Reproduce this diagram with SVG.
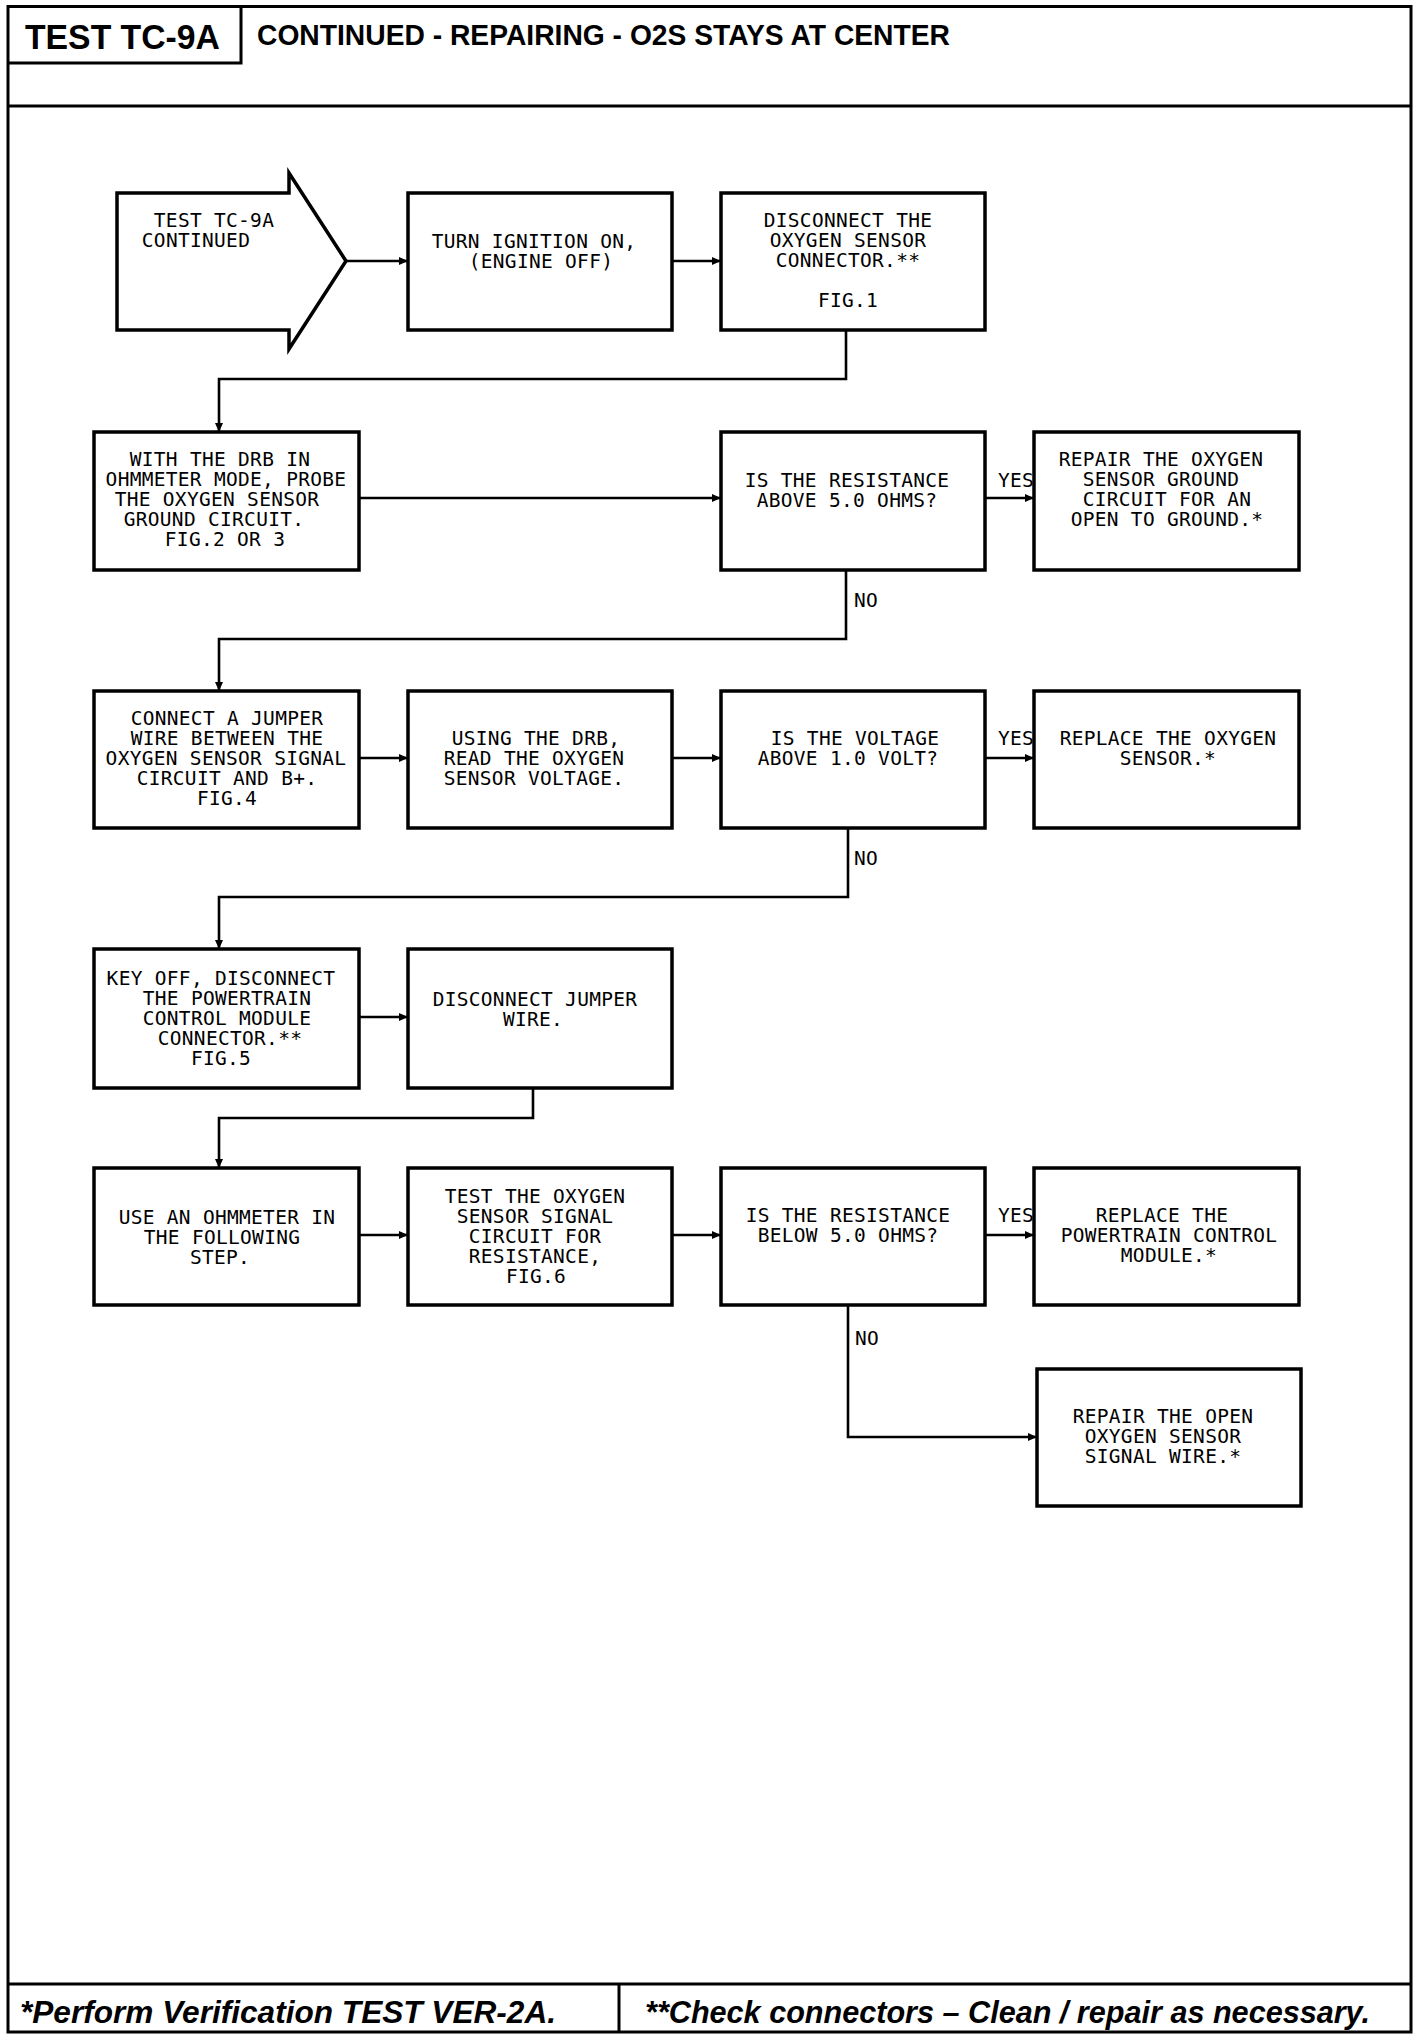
<svg xmlns="http://www.w3.org/2000/svg" width="1424" height="2044" viewBox="0 0 1424 2044">
<style>
.frame{fill:none;stroke:#000;stroke-width:3}
.box{fill:#fff;stroke:#000;stroke-width:3.5}
.con{fill:none;stroke:#000;stroke-width:2.6}
.t{font-family:"DejaVu Sans Mono","Liberation Mono",monospace;font-size:19.5px;letter-spacing:0.3px;fill:#000;text-anchor:middle}
.lbl{font-family:"DejaVu Sans Mono","Liberation Mono",monospace;font-size:19.5px;letter-spacing:0.3px;fill:#000}
.hd{font-family:"Liberation Sans",Arial,sans-serif;font-weight:bold;fill:#000}
.ft{font-family:"Liberation Sans",Arial,sans-serif;font-weight:bold;font-style:italic;fill:#000;font-size:31px}
</style>
<defs>
<marker id="ah" markerUnits="userSpaceOnUse" markerWidth="9" markerHeight="8" refX="9" refY="4" orient="auto">
<path d="M0,0 L9,4 L0,8 z" fill="#000"/>
</marker>
</defs>
<rect width="1424" height="2044" fill="#fff"/>
<g id="frame">
<rect class="frame" x="8" y="6.5" width="1403" height="2025.5"/>
<line class="frame" x1="8" y1="106" x2="1411" y2="106"/>
<polyline class="frame" points="8,63 241,63 241,6.5"/>
<line class="frame" x1="8" y1="1984" x2="1411" y2="1984"/>
<line class="frame" x1="619" y1="1984" x2="619" y2="2032"/>
<text class="hd" x="25" y="49" font-size="35" textLength="195" lengthAdjust="spacingAndGlyphs">TEST TC-9A</text>
<text class="hd" x="257" y="45" font-size="29" textLength="693" lengthAdjust="spacingAndGlyphs">CONTINUED - REPAIRING - O2S STAYS AT CENTER</text>
<text class="ft" x="20" y="2023" textLength="536" lengthAdjust="spacingAndGlyphs">*Perform Verification TEST VER-2A.</text>
<text class="ft" x="645" y="2023" textLength="725" lengthAdjust="spacingAndGlyphs">**Check connectors – Clean / repair as necessary.</text>
</g>
<g id="connectors">
<line class="con" x1="346" y1="261" x2="408" y2="261" marker-end="url(#ah)"/>
<line class="con" x1="672" y1="261" x2="721" y2="261" marker-end="url(#ah)"/>
<polyline class="con" points="846,330 846,379 219,379 219,432" marker-end="url(#ah)"/>
<line class="con" x1="359" y1="498" x2="721" y2="498" marker-end="url(#ah)"/>
<line class="con" x1="985" y1="498" x2="1034" y2="498" marker-end="url(#ah)"/>
<polyline class="con" points="846,570 846,639 219,639 219,691" marker-end="url(#ah)"/>
<line class="con" x1="359" y1="758" x2="408" y2="758" marker-end="url(#ah)"/>
<line class="con" x1="672" y1="758" x2="721" y2="758" marker-end="url(#ah)"/>
<line class="con" x1="985" y1="758" x2="1034" y2="758" marker-end="url(#ah)"/>
<polyline class="con" points="848,828 848,897 219,897 219,949" marker-end="url(#ah)"/>
<line class="con" x1="359" y1="1017" x2="408" y2="1017" marker-end="url(#ah)"/>
<polyline class="con" points="533,1088 533,1118 219,1118 219,1168" marker-end="url(#ah)"/>
<line class="con" x1="359" y1="1235" x2="408" y2="1235" marker-end="url(#ah)"/>
<line class="con" x1="672" y1="1235" x2="721" y2="1235" marker-end="url(#ah)"/>
<line class="con" x1="985" y1="1235" x2="1034" y2="1235" marker-end="url(#ah)"/>
<polyline class="con" points="848,1305 848,1437 1037,1437" marker-end="url(#ah)"/>
<text class="lbl" x="998" y="487">YES</text>
<text class="lbl" x="854" y="607">NO</text>
<text class="lbl" x="998" y="745">YES</text>
<text class="lbl" x="854" y="865">NO</text>
<text class="lbl" x="998" y="1222">YES</text>
<text class="lbl" x="855" y="1345">NO</text>
</g>
<g id="start">
<polygon class="box" points="117,193 289,193 289,173 346,261 289,349 289,330 117,330"/>
<text class="t" x="214" y="227">TEST TC-9A</text>
<text class="t" x="196" y="247">CONTINUED</text>
</g>
<g id="n1">
<rect class="box" x="408" y="193" width="264" height="137"/>
<text class="t" x="534" y="248">TURN IGNITION ON,</text>
<text class="t" x="541" y="268">(ENGINE OFF)</text>
</g>
<g id="n2">
<rect class="box" x="721" y="193" width="264" height="137"/>
<text class="t" x="848" y="227">DISCONNECT THE</text>
<text class="t" x="848" y="247">OXYGEN SENSOR</text>
<text class="t" x="848" y="267">CONNECTOR.**</text>
<text class="t" x="848" y="307">FIG.1</text>
</g>
<g id="n3">
<rect class="box" x="94" y="432" width="265" height="138"/>
<text class="t" x="220" y="466">WITH THE DRB IN</text>
<text class="t" x="226" y="486">OHMMETER MODE, PROBE</text>
<text class="t" x="217" y="506">THE OXYGEN SENSOR</text>
<text class="t" x="214" y="526">GROUND CIRCUIT.</text>
<text class="t" x="225" y="546">FIG.2 OR 3</text>
</g>
<g id="n4">
<rect class="box" x="721" y="432" width="264" height="138"/>
<text class="t" x="847" y="487">IS THE RESISTANCE</text>
<text class="t" x="847" y="507">ABOVE 5.0 OHMS?</text>
</g>
<g id="n5">
<rect class="box" x="1034" y="432" width="265" height="138"/>
<text class="t" x="1161" y="466">REPAIR THE OXYGEN</text>
<text class="t" x="1161" y="486">SENSOR GROUND</text>
<text class="t" x="1167" y="506">CIRCUIT FOR AN</text>
<text class="t" x="1167" y="526">OPEN TO GROUND.*</text>
</g>
<g id="n6">
<rect class="box" x="94" y="691" width="265" height="137"/>
<text class="t" x="227" y="725">CONNECT A JUMPER</text>
<text class="t" x="227" y="745">WIRE BETWEEN THE</text>
<text class="t" x="226" y="765">OXYGEN SENSOR SIGNAL</text>
<text class="t" x="227" y="785">CIRCUIT AND B+.</text>
<text class="t" x="227" y="805">FIG.4</text>
</g>
<g id="n7">
<rect class="box" x="408" y="691" width="264" height="137"/>
<text class="t" x="536" y="745">USING THE DRB,</text>
<text class="t" x="534" y="765">READ THE OXYGEN</text>
<text class="t" x="534" y="785">SENSOR VOLTAGE.</text>
</g>
<g id="n8">
<rect class="box" x="721" y="691" width="264" height="137"/>
<text class="t" x="855" y="745">IS THE VOLTAGE</text>
<text class="t" x="848" y="765">ABOVE 1.0 VOLT?</text>
</g>
<g id="n9">
<rect class="box" x="1034" y="691" width="265" height="137"/>
<text class="t" x="1168" y="745">REPLACE THE OXYGEN</text>
<text class="t" x="1168" y="765">SENSOR.*</text>
</g>
<g id="n10">
<rect class="box" x="94" y="949" width="265" height="139"/>
<text class="t" x="221" y="985">KEY OFF, DISCONNECT</text>
<text class="t" x="227" y="1005">THE POWERTRAIN</text>
<text class="t" x="227" y="1025">CONTROL MODULE</text>
<text class="t" x="230" y="1045">CONNECTOR.**</text>
<text class="t" x="221" y="1065">FIG.5</text>
</g>
<g id="n11">
<rect class="box" x="408" y="949" width="264" height="139"/>
<text class="t" x="535" y="1006">DISCONNECT JUMPER</text>
<text class="t" x="533" y="1026">WIRE.</text>
</g>
<g id="n12">
<rect class="box" x="94" y="1168" width="265" height="137"/>
<text class="t" x="227" y="1224">USE AN OHMMETER IN</text>
<text class="t" x="222" y="1244">THE FOLLOWING</text>
<text class="t" x="220" y="1264">STEP.</text>
</g>
<g id="n13">
<rect class="box" x="408" y="1168" width="264" height="137"/>
<text class="t" x="535" y="1203">TEST THE OXYGEN</text>
<text class="t" x="535" y="1223">SENSOR SIGNAL</text>
<text class="t" x="535" y="1243">CIRCUIT FOR</text>
<text class="t" x="535" y="1263">RESISTANCE,</text>
<text class="t" x="536" y="1283">FIG.6</text>
</g>
<g id="n14">
<rect class="box" x="721" y="1168" width="264" height="137"/>
<text class="t" x="848" y="1222">IS THE RESISTANCE</text>
<text class="t" x="848" y="1242">BELOW 5.0 OHMS?</text>
</g>
<g id="n15">
<rect class="box" x="1034" y="1168" width="265" height="137"/>
<text class="t" x="1162" y="1222">REPLACE THE</text>
<text class="t" x="1169" y="1242">POWERTRAIN CONTROL</text>
<text class="t" x="1169" y="1262">MODULE.*</text>
</g>
<g id="n16">
<rect class="box" x="1037" y="1369" width="264" height="137"/>
<text class="t" x="1163" y="1423">REPAIR THE OPEN</text>
<text class="t" x="1163" y="1443">OXYGEN SENSOR</text>
<text class="t" x="1163" y="1463">SIGNAL WIRE.*</text>
</g>
</svg>
